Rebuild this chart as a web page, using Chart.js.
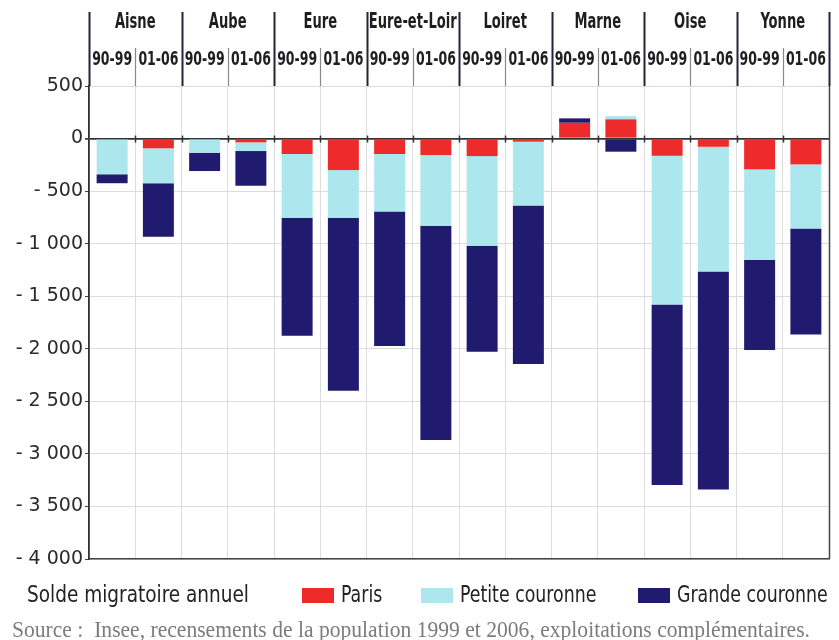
<!DOCTYPE html>
<html>
<head>
<meta charset="utf-8">
<script src="https://cdn.jsdelivr.net/npm/chart.js@4"></script>
<style>
  html, body { margin: 0; padding: 0; background: #fff; }
  canvas { display: block; }
</style>
</head>
<body>
<canvas id="chart" width="839" height="640"></canvas>
<script>
const departements = ["Aisne", "Aube", "Eure", "Eure-et-Loir", "Loiret", "Marne", "Oise", "Yonne"];
const periodes = ["90-99", "01-06"];
const categories = departements.flatMap((d) => periodes.map((p) => d + " " + p));

// solde migratoire annuel, par zone d'origine
const paris = [-10, -93, 0, -36, -147, -300, -147, -157, -167, -30, 150, 183, -164, -78, -293, -246];
const petiteCouronne = [-330, -333, -135, -83, -606, -453, -546, -672, -853, -606, 0, 31, -1414, -1186, -863, -609];
const grandeCouronne = [-85, -508, -174, -330, -1123, -1646, -1281, -2039, -1008, -1510, 42, -125, -1719, -2074, -856, -1008];

const yMin = -4000;
const yMax = 500;
const yStep = 500;

const legendTitle = "Solde migratoire annuel";
const sourceText = "Source :  Insee, recensements de la population 1999 et 2006, exploitations complémentaires.";

const COND = "'DejaVu Sans Condensed', 'DejaVu Sans', sans-serif";

function formatTick(value) {
  const abs = Math.abs(value).toString().replace(/\B(?=(\d{3})+(?!\d))/g, " ");
  return value < 0 ? "- " + abs : abs;
}

// texte condense : on resserre horizontalement via maxWidth
function fillNarrow(ctx, text, x, y, factor) {
  ctx.fillText(text, x, y, ctx.measureText(text).width * factor);
}

const headerPlugin = {
  id: "header",
  afterDraw: (chart) => {
    const { ctx, chartArea } = chart;
    const xs = chart.scales.x;
    const ys = chart.scales.y;
    const n = categories.length;
    const edge = (i) => {
      if (i === 0) return chartArea.left;
      if (i === n) return chartArea.right;
      return (xs.getPixelForValue(i - 1) + xs.getPixelForValue(i)) / 2;
    };
    ctx.save();

    // separateurs d'en-tete
    for (let i = 0; i <= n; i++) {
      const x = Math.round(edge(i)) + 0.5;
      const major = i % 2 === 0;
      ctx.strokeStyle = major ? "#23233a" : "#888";
      ctx.lineWidth = major ? 2 : 1.2;
      ctx.beginPath();
      ctx.moveTo(x, major ? 12 : 48);
      ctx.lineTo(x, chartArea.top);
      ctx.stroke();
    }

    // petites marques sur la ligne zero
    const y0 = ys.getPixelForValue(0);
    ctx.strokeStyle = "#333";
    ctx.lineWidth = 1.5;
    for (let i = 1; i < n; i++) {
      const x = Math.round(edge(i)) + 0.5;
      ctx.beginPath();
      ctx.moveTo(x, y0 - 3);
      ctx.lineTo(x, y0 + 4);
      ctx.stroke();
    }

    // bordure droite
    ctx.strokeStyle = "#444";
    ctx.lineWidth = 1.5;
    ctx.beginPath();
    ctx.moveTo(chartArea.right + 0.5, chartArea.top);
    ctx.lineTo(chartArea.right + 0.5, chartArea.bottom);
    ctx.stroke();

    // libelles d'en-tete
    ctx.fillStyle = "#1e1e1e";
    ctx.textAlign = "center";
    ctx.textBaseline = "alphabetic";
    ctx.font = "bold 21px " + COND;
    const deptFactor = 88 / ctx.measureText("Eure-et-Loir").width;
    ctx.font = "bold 20px " + COND;
    const perFactor = 40 / ctx.measureText("90-99").width;
    departements.forEach((d, i) => {
      const cx = (edge(2 * i) + edge(2 * i + 2)) / 2;
      ctx.font = "bold 21px " + COND;
      fillNarrow(ctx, d, cx, 28, deptFactor);
      ctx.font = "bold 20px " + COND;
      periodes.forEach((p, j) => {
        const k = 2 * i + j;
        fillNarrow(ctx, p, (edge(k) + edge(k + 1)) / 2, 65, perFactor);
      });
    });

    // legende
    ctx.textAlign = "left";
    ctx.font = "23px " + COND;
    ctx.fillStyle = "#222";
    const legFactor = 222 / ctx.measureText(legendTitle).width;
    fillNarrow(ctx, legendTitle, 27, 602, legFactor);
    const boxX = [302, 421, 638];
    chart.data.datasets.forEach((ds, i) => {
      ctx.fillStyle = ds.backgroundColor;
      ctx.fillRect(boxX[i], 588, 32, 15);
      ctx.fillStyle = "#222";
      fillNarrow(ctx, ds.label, boxX[i] + 39, 602, legFactor * 0.94);
    });

    // source
    ctx.font = "23px 'Liberation Serif', 'DejaVu Serif', serif";
    ctx.fillStyle = "#7c7c7c";
    ctx.fillText(sourceText, 12, 637, 798);
    ctx.restore();
  },
};

const ctx = document.getElementById("chart").getContext("2d");

new Chart(ctx, {
  type: "bar",
  data: {
    labels: categories,
    datasets: [
      { label: "Paris", data: paris, backgroundColor: "#ee2b2b" },
      { label: "Petite couronne", data: petiteCouronne, backgroundColor: "#ade7ee" },
      { label: "Grande couronne", data: grandeCouronne, backgroundColor: "#211b70" },
    ],
  },
  options: {
    responsive: false,
    animation: false,
    layout: { padding: { top: 86, right: 10, bottom: 81, left: 0 } },
    datasets: {
      bar: { barPercentage: 0.67, categoryPercentage: 1 },
    },
    plugins: {
      legend: { display: false },
      tooltip: { enabled: false },
    },
    scales: {
      x: {
        stacked: true,
        ticks: { display: false },
        grid: { offset: true, color: "#dcdcdc", lineWidth: 1, drawTicks: false },
        border: { color: "#444", width: 1.5 },
        afterFit: (scale) => {
          scale.height = 0;
        },
      },
      y: {
        stacked: true,
        min: yMin,
        max: yMax,
        ticks: {
          stepSize: yStep,
          padding: 2,
          color: "#2a2a2a",
          font: { family: "'DejaVu Sans', sans-serif", size: 19 },
          callback: (value) => formatTick(value),
        },
        grid: {
          color: (c) => (c.tick && c.tick.value === 0 ? "#333" : "#dcdcdc"),
          lineWidth: (c) => (c.tick && c.tick.value === 0 ? 1.8 : 1),
          tickColor: "#444",
          tickLength: 4,
        },
        border: { color: "#333", width: 1.8 },
        afterFit: (scale) => {
          scale.width = 89;
        },
      },
    },
  },
  plugins: [headerPlugin],
});
</script>
</body>
</html>
